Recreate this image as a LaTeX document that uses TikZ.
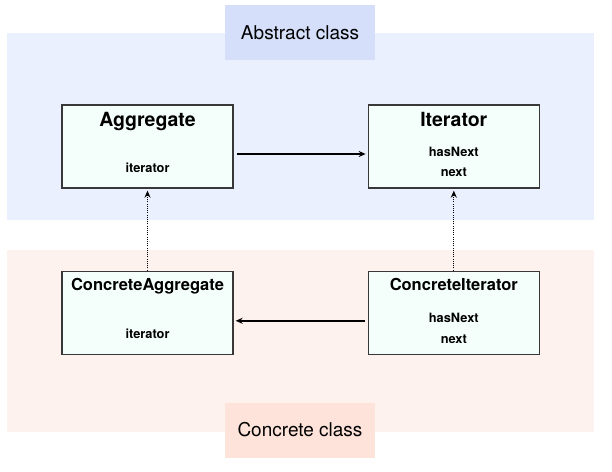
\documentclass[tikz,border=0pt]{standalone}
\usepackage{fontspec}
\setmainfont{TeX Gyre Heros}
\usepackage{tikz}
\usetikzlibrary{arrows.meta}
\usetikzlibrary{positioning}
\definecolor{abstractbg}{HTML}{EAF0FD}
\definecolor{abstractlbl}{HTML}{D5DFFA}
\definecolor{concretebg}{HTML}{FEF2EF}
\definecolor{concretelbl}{HTML}{FDE3DA}
\definecolor{boxfill}{HTML}{F4FEFB}
\definecolor{boxline}{HTML}{383838}

\begin{document}
\begin{tikzpicture}[x=1pt,y=-1pt,>={Stealth[length=7pt,width=6pt]},line width=1.3pt,
      class node/.style={rectangle,draw=boxline,fill=boxfill,minimum width=171pt,minimum height=83pt,inner sep=0pt},
      big name/.style={anchor=base,inner sep=0pt,font=\bfseries\fontsize{19.5}{22}\selectfont},
      small name/.style={anchor=base,inner sep=0pt,font=\bfseries\fontsize{16.5}{19}\selectfont},
      method/.style={anchor=base,inner sep=0pt,font=\bfseries\fontsize{12.8}{15}\selectfont},
      area label/.style={rectangle,minimum width=150pt,minimum height=55pt,inner sep=0pt,font=\fontsize{19}{22}\selectfont}]

      \useasboundingbox (0,0) rectangle (612,471);
      \fill[abstractbg] (7,33) rectangle (594,220);
      \fill[concretebg] (7,250) rectangle (594,432);
      \node[area label,fill=abstractlbl] (abstract) at (300,32.5) {Abstract class};
      \node[area label,fill=concretelbl] (concrete) at (300,430) {Concrete class};

      \node[class node] (agg) at (147.5,146.5) {};
      \node[class node] (it) [right=134pt of agg] {};
      \node[class node] (cagg) [below=82pt of agg] {};
      \node[class node] (cit) [below=82pt of it] {};

      \node[big name] (aggname) at ([yshift=-22pt]agg.north) {Aggregate};
      \node[method] (aggiter) at ([yshift=-68pt]agg.north) {iterator};
      \node[big name] (itname) at ([yshift=-22pt]it.north) {Iterator};
      \node[method] (ithas) at ([yshift=-52pt]it.north) {hasNext};
      \node[method] (itnext) at ([yshift=-72pt]it.north) {next};
      \node[small name] (caggname) at ([yshift=-20pt]cagg.north) {ConcreteAggregate};
      \node[method] (caggiter) at ([yshift=-68pt]cagg.north) {iterator};
      \node[small name] (citname) at ([yshift=-20pt]cit.north) {ConcreteIterator};
      \node[method] (cithas) at ([yshift=-52pt]cit.north) {hasNext};
      \node[method] (citnext) at ([yshift=-73pt]cit.north) {next};

      \path[->,line width=1.7pt,shorten <=3pt,shorten >=2pt]
        ([yshift=-7.5pt]agg.east) edge ([yshift=-7.5pt]it.west)
        ([yshift=-8pt]cit.west) edge ([yshift=-8pt]cagg.east);
      \path[->,line width=1.1pt,dash pattern=on 1pt off 1.2pt,shorten >=2pt]
        (cagg) edge (agg)
        (cit) edge (it);
\end{tikzpicture}
\end{document}
